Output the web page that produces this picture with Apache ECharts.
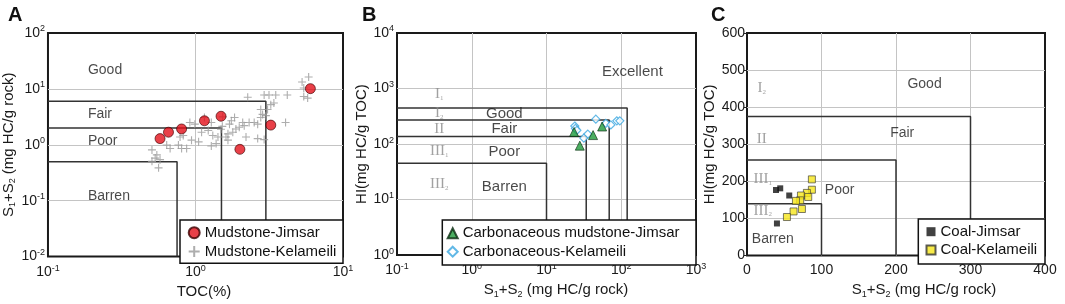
<!DOCTYPE html>
<html><head><meta charset="utf-8">
<script src="https://cdn.jsdelivr.net/npm/echarts@6/dist/echarts.min.js"></script>
<style>html,body{margin:0;padding:0;background:#fff}#c{width:1065px;height:304px}</style>
</head><body><div id="c"></div>
<script>
// ---------- data ----------
const mudJimsar = [[0.575,1.29],[0.656,1.68],[0.805,1.92],[1.15,2.69],[1.49,3.24],[2.00,0.83],[3.24,2.25],[6.01,10.1]];
const mudKelameili = [[5.28,13.3],[5.85,16.3],[5.42,7.31],[5.76,6.84],[5.42,10.4],[2.26,7.11],[2.92,7.80],[3.15,7.80],[3.50,7.80],[4.19,7.80],
  [3.40,5.60],[3.24,5.23],[3.08,4.28],[2.77,4.28],[2.85,3.50],[2.77,3.07],[4.08,2.51],[2.50,2.51],[2.64,2.34],[2.31,2.51],
  [1.84,3.07],[1.75,2.69],[1.70,2.34],[2.09,2.51],[2.14,2.20],[1.98,2.06],[1.88,1.92],[1.79,1.68],[1.66,1.57],[1.61,1.38],
  [2.20,1.38],[2.64,1.29],[2.92,1.24],[0.916,2.51],[0.99,2.34],[1.15,3.07],[1.28,2.51],[1.10,1.68],[1.22,1.80],[1.31,1.47],
  [1.42,1.38],[0.786,1.38],[0.826,1.47],[0.638,0.99],[0.673,0.86],[0.766,0.99],[0.805,0.86],[0.871,0.86],[0.507,0.81],[0.547,0.66],
  [0.533,0.578],[0.575,0.542],[0.507,0.506],[0.562,0.387],[1.66,1.21],[1.38,1.05],[1.28,0.95],[0.94,1.21],[1.49,1.90],[1.52,2.14],
  [1.05,1.13],[3.0,3.32],[1.53,3.16]];
const carbMudJimsar = [[23.4,165],[42,145],[55.5,207],[27.9,93.5]];
const carbKelameili = [[23.9,211],[24.4,191],[25.5,177],[35.7,151],[31.6,128],[45.7,281],[62.2,236],[72.6,221],[87.3,262],[95.7,262]];
const coalJimsar = [[38.9,176.8],[44.6,181.3],[56.7,162],[40.2,86.6]];
const coalKelameili = [[87.1,205.5],[87.1,177.6],[80.4,169],[82.2,158],[72.4,162],[71.4,149],[65.7,147.5],[73.7,125.6],[62.5,119],[53.6,104]];
// classification box corners [x, y] (right edge, top edge)
const boxesA = [[3,6],[1.5,2],[0.75,0.5]];
const boxesB = [[120,445],[69,270],[34,137],[10,45]];
const boxesC = [[300,375],[200,258],[100,140]];
const rangeA = {x:[0.1,10], y:[0.01,100]};
const rangeB = {x:[0.1,1000], y:[1,10000]};
const rangeC = {x:[0,400], y:[0,600]};

// ---------- styles ----------
const F = '"Liberation Sans", Arial, sans-serif';
const SF = '"Liberation Serif", "Times New Roman", serif';
const TXT = '#1a1a1a';
const GRIDC = '#c4c4c4';

const powFmt = v => '{b|10}{s|' + Math.round(Math.log10(v)) + '}';
const powRich = {b:{fontSize:14, lineHeight:17, fontFamily:F, color:TXT}, s:{fontSize:9, verticalAlign:'top', fontFamily:F, color:TXT}};
const nameRich = {n:{fontSize:15, lineHeight:18, fontFamily:F, color:TXT}, sub:{fontSize:9, verticalAlign:'bottom', fontFamily:F, color:TXT}};
const s1s2 = '{n|S}{sub|1}{n|+S}{sub|2}{n| (mg HC/g rock)}';

function logAxis(range, idx, extra) {
  return Object.assign({
    type:'log', logBase:10, min:range[0], max:range[1], gridIndex:idx,
    axisLine:{show:false}, axisTick:{show:false},
    splitLine:{show:true, showMinLine:false, showMaxLine:false, lineStyle:{color:GRIDC, width:1}},
    axisLabel:{formatter:powFmt, rich:powRich, margin:6}
  }, extra);
}
function valAxis(range, idx, extra) {
  return Object.assign({
    type:'value', min:range[0], max:range[1], interval:100, gridIndex:idx,
    axisLine:{show:false}, axisTick:{show:false},
    splitLine:{show:true, showMinLine:false, showMaxLine:false, lineStyle:{color:GRIDC, width:1}},
    axisLabel:{fontSize:14, fontFamily:F, color:TXT, margin:8}
  }, extra);
}
function boxLines(boxes, range, idx) {
  return boxes.map(b => ({
    type:'line', xAxisIndex:idx, yAxisIndex:idx, symbol:'none', silent:true, clip:false, z:1,
    lineStyle:{color:'#333', width:1.5},
    data:[[range.x[0], b[1]], [b[0], b[1]], [b[0], range.y[0]]]
  }));
}
function textSeries(idx, items, align, size) {
  return {
    type:'scatter', xAxisIndex:idx, yAxisIndex:idx, symbolSize:1, silent:true, z:3,
    itemStyle:{color:'rgba(0,0,0,0)'},
    data: items.map(it => ({value:[it[1], it[2]], name:it[0]})),
    label:{show:true, position:[0,0], align:align, verticalAlign:'middle', formatter:'{b}',
      fontSize:size, fontFamily:F, color:TXT,
      rich:{r:{fontFamily:SF, fontSize:15, color:'#8a8a8a'}, rs:{fontFamily:SF, fontSize:7, color:'#8a8a8a', verticalAlign:'bottom'}}}
  };
}
const crossPath = 'path://M0,5L10,5M5,0L5,10';

const option = {
  animation:false,
  backgroundColor:'#fff',
  title:[
    {text:'A', left:3, top:0, textStyle:{fontSize:20, fontWeight:'bold', fontFamily:F, color:'#111'}},
    {text:'B', left:357, top:0, textStyle:{fontSize:20, fontWeight:'bold', fontFamily:F, color:'#111'}},
    {text:'C', left:706, top:0, textStyle:{fontSize:20, fontWeight:'bold', fontFamily:F, color:'#111'}}
  ],
  grid:[
    {left:45, top:33, width:298, height:230, show:true, borderColor:'#1a1a1a', borderWidth:2, backgroundColor:'#fff'},
    {left:397, top:33, width:299, height:232, show:true, borderColor:'#1a1a1a', borderWidth:2, backgroundColor:'#fff'},
    {left:747, top:33, width:298, height:231, show:true, borderColor:'#1a1a1a', borderWidth:2, backgroundColor:'#fff'}
  ],
  xAxis:[
    logAxis(rangeA.x, 0, {name:'TOC(%)', nameLocation:'middle', nameGap:22, nameTextStyle:{fontSize:15, fontFamily:F, color:TXT, padding:[0,0,0,17]}, axisLabel:{formatter:powFmt, rich:powRich, margin:7}}),
    logAxis(rangeB.x, 1, {name:s1s2, nameLocation:'middle', nameGap:20, nameTextStyle:{rich:nameRich, padding:[0,0,0,19]}, axisLabel:{formatter:powFmt, rich:powRich, margin:7}}),
    valAxis(rangeC.x, 2, {name:s1s2, nameLocation:'middle', nameGap:20, nameTextStyle:{rich:nameRich, padding:[0,0,0,56]}})
  ],
  yAxis:[
    logAxis(rangeA.y, 0, {name:s1s2, nameLocation:'middle', nameRotate:90, nameGap:26, nameTextStyle:{rich:nameRich}, axisLabel:{formatter:powFmt, rich:powRich, margin:3}}),
    logAxis(rangeB.y, 1, {name:'HI(mg HC/g TOC)', nameLocation:'middle', nameRotate:90, nameGap:25, nameTextStyle:{fontSize:15, fontFamily:F, color:TXT}, axisLabel:{formatter:powFmt, rich:powRich, margin:3}}),
    valAxis(rangeC.y, 2, {name:'HI(mg HC/g TOC)', nameLocation:'middle', nameRotate:90, nameGap:26, nameTextStyle:{fontSize:15, fontFamily:F, color:TXT},
      axisTick:{show:true, length:3, lineStyle:{color:'#222'}}, axisLabel:{fontSize:14, fontFamily:F, color:TXT, margin:2}})
  ],
  legend:[
    {data:['Mudstone-Jimsar','Mudstone-Kelameili'], orient:'vertical', left:186.2, top:225.2, itemWidth:11, itemHeight:11, itemGap:3.3, padding:0,
      selectedMode:false, textStyle:{fontSize:15, lineHeight:15, fontFamily:F, color:'#111'}},
    {data:['Carbonaceous mudstone-Jimsar','Carbonaceous-Kelameili'], orient:'vertical', left:446.7, top:225.8, itemWidth:10, itemHeight:10, itemGap:3.4, padding:0,
      selectedMode:false, textStyle:{fontSize:15, lineHeight:15, fontFamily:F, color:'#111'}},
    {data:['Coal-Jimsar','Coal-Kelameili'], orient:'vertical', left:925.5, top:224.2, itemWidth:9, itemHeight:9, itemGap:3.3, padding:0,
      selectedMode:false, textStyle:{fontSize:15, lineHeight:15, fontFamily:F, color:'#111'}}
  ],
  graphic:[
    {type:'rect', z:3, shape:{x:180, y:220, width:163, height:43.3}, style:{fill:'#fff', stroke:'#111', lineWidth:1.5}},
    {type:'rect', z:3, shape:{x:442.3, y:220, width:253.7, height:45}, style:{fill:'#fff', stroke:'#111', lineWidth:1.5}},
    {type:'rect', z:3, shape:{x:918.3, y:219, width:126.7, height:45}, style:{fill:'#fff', stroke:'#111', lineWidth:1.5}}
  ],
  series:[].concat(
    boxLines(boxesA, rangeA, 0),
    boxLines(boxesB, rangeB, 1),
    boxLines(boxesC, rangeC, 2),
    [
      textSeries(0, [['Good',0.188,21],['Fair',0.188,3.46],['Poor',0.188,1.13],['Barren',0.188,0.118]], 'left', 14),
      textSeries(1, [['Excellent',143,1987],['Good',2.77,347],['Fair',2.77,184],['Poor',2.77,70.8],['Barren',2.77,16.3]], 'center', 15),
      textSeries(1, [['{r|I}{rs|1}',0.373,776],['{r|I}{rs|2}',0.373,360],['{r|II}',0.373,184],['{r|III}{rs|1}',0.373,73.6],['{r|III}{rs|2}',0.373,18.4]], 'center', 15),
      textSeries(2, [['Good',239,461],['Fair',209,328],['Poor',125,175],['Barren',35.3,44]], 'center', 14),
      textSeries(2, [['{r|I}{rs|2}',20.5,451],['{r|II}',20.5,312],['{r|III}{rs|1}',21.8,205],['{r|III}{rs|2}',21.8,120]], 'center', 14),
      {name:'Mudstone-Kelameili', type:'scatter', xAxisIndex:0, yAxisIndex:0, symbol:crossPath, symbolSize:8, z:2,
        itemStyle:{color:'none', borderColor:'#9a9a9a', borderWidth:1.1}, data:mudKelameili},
      {name:'Mudstone-Jimsar', type:'scatter', xAxisIndex:0, yAxisIndex:0, symbol:'circle', symbolSize:10, z:2,
        itemStyle:{color:'#e3101a', borderColor:'#3a0000', borderWidth:0.8}, data:mudJimsar},
      {name:'Carbonaceous-Kelameili', type:'scatter', xAxisIndex:1, yAxisIndex:1, symbol:'diamond', symbolSize:8, z:2,
        itemStyle:{color:'#fff', borderColor:'#3aa6e0', borderWidth:1.2}, data:carbKelameili},
      {name:'Carbonaceous mudstone-Jimsar', type:'scatter', xAxisIndex:1, yAxisIndex:1, symbol:'triangle', symbolSize:9, z:2,
        itemStyle:{color:'#1e9a3a', borderColor:'#0a2a10', borderWidth:0.8}, data:carbMudJimsar},
      {name:'Coal-Jimsar', type:'scatter', xAxisIndex:2, yAxisIndex:2, symbol:'rect', symbolSize:6, z:2,
        itemStyle:{color:'#111'}, data:coalJimsar},
      {name:'Coal-Kelameili', type:'scatter', xAxisIndex:2, yAxisIndex:2, symbol:'rect', symbolSize:7, z:2,
        itemStyle:{color:'#f6e61c', borderColor:'#333', borderWidth:0.8}, data:coalKelameili}
    ]
  )
};
const chart = echarts.init(document.getElementById('c'), null, {renderer:'canvas'});
chart.setOption(option);
</script>
</body></html>
